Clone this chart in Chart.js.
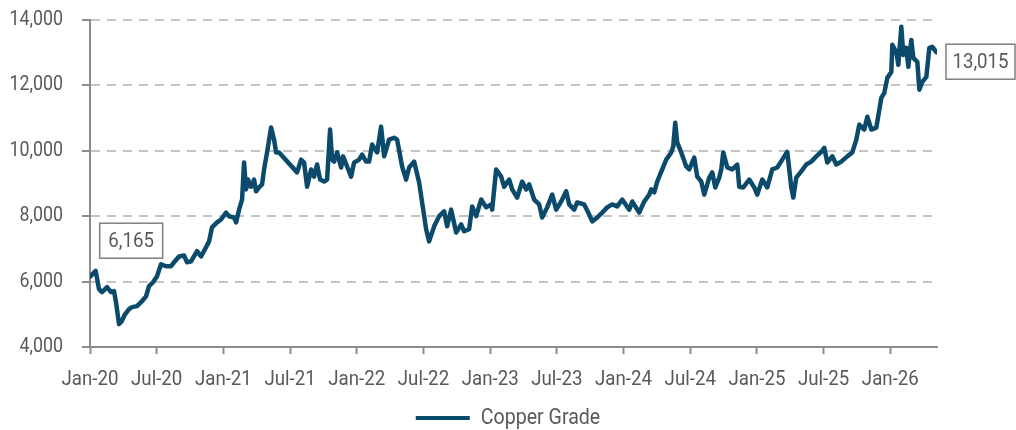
<!DOCTYPE html>
<html>
<head>
<meta charset="utf-8">
<script src="https://cdn.jsdelivr.net/npm/chart.js@4/dist/chart.umd.min.js"></script>
<style>
  html, body { margin: 0; padding: 0; background: #fff; }
  #wrap { width: 1016px; height: 430px; position: relative; }
</style>
</head>
<body>
<div id="wrap"><canvas id="c" width="1016" height="430"></canvas></div>
<script>
// Months elapsed since Jan-2020 for each observation
const months = [
  0.06, 0.51, 0.81, 1.08, 1.53, 1.89, 2.16, 2.34, 2.61, 2.85, 3.15, 3.51, 3.78, 4.23, 4.68, 5.04, 5.31, 5.67,
  6.03, 6.39, 6.84, 7.29, 7.56, 8.01, 8.46, 8.73, 9.09, 9.63, 9.99, 10.44, 10.71, 10.98, 11.43, 11.79,
  12.24, 12.51, 12.96, 13.14, 13.41, 13.68, 13.86, 14.04, 14.22, 14.49, 14.76, 14.94, 15.21, 15.48, 15.66, 15.93,
  16.29, 16.56, 16.74, 17.01, 18.63, 18.99, 19.26, 19.53, 19.89, 20.16, 20.43, 20.70, 21.06, 21.33, 21.60, 21.78,
  21.96, 22.23, 22.59, 22.77, 23.13, 23.49, 23.76, 24.21, 24.48, 24.84, 25.11, 25.38, 25.83, 26.19, 26.46, 26.91,
  27.36, 27.63, 28.08, 28.44, 28.71, 29.16, 29.61, 29.88, 30.24, 30.51, 30.96, 31.41, 31.86, 32.13, 32.49, 32.94,
  33.39, 33.66, 34.11, 34.38, 34.74, 35.19, 35.64, 36.09, 36.18, 36.54, 36.99, 37.26, 37.71, 37.98, 38.43, 38.88,
  39.24, 39.51, 39.96, 40.41, 40.68, 41.13, 41.58, 41.94, 42.39, 42.84, 43.11, 43.56, 43.83, 44.46, 44.91, 45.18,
  45.63, 46.08, 46.53, 46.98, 47.43, 47.88, 48.51, 48.78, 49.41, 49.86, 50.31, 50.49, 50.76, 51.03, 51.48, 51.84,
  52.29, 52.47, 52.65, 52.83, 53.19, 53.64, 53.91, 54.36, 54.63, 54.99, 55.26, 55.71, 55.98, 56.25, 56.61, 56.79,
  56.97, 57.33, 57.78, 58.23, 58.41, 58.77, 59.31, 59.76, 60.03, 60.48, 60.93, 61.38, 61.83, 62.28, 62.73, 63.09,
  63.27, 63.54, 63.99, 64.44, 64.89, 65.34, 65.79, 66.06, 66.33, 66.78, 67.14, 67.59, 68.13, 68.58, 68.94, 69.21,
  69.66, 69.93, 70.29, 70.74, 71.19, 71.46, 71.73, 72.09, 72.18, 72.54, 72.72, 72.99, 73.17, 73.44, 73.62, 73.89,
  74.07, 74.43, 74.61, 74.88, 75.24, 75.51, 75.78, 76.14
];
// Copper Grade price
const copperGrade = [
  6165, 6330, 5770, 5680, 5830, 5680, 5710, 5370, 4700, 4790, 5000, 5160, 5220, 5250, 5400, 5550, 5860, 5980,
  6165, 6530, 6470, 6470, 6590, 6770, 6800, 6590, 6620, 6930, 6770, 7050, 7230, 7660, 7810, 7900,
  8110, 8000, 7960, 7810, 8200, 8510, 9640, 8820, 9120, 8900, 9120, 8760, 8880, 8970, 9430, 9950,
  10710, 10340, 9950, 9950, 9340, 9730, 9640, 8900, 9430, 9210, 9580, 9120, 9060, 9120, 10650, 9730,
  9670, 9950, 9490, 9830, 9520, 9210, 9640, 9730, 9880, 9670, 9670, 10190, 9950, 10740, 9830, 10340,
  10400, 10340, 9520, 9120, 9490, 9670, 9030, 8420, 7600, 7230, 7690, 8000, 8150, 7690, 8200, 7500,
  7750, 7540, 7600, 8300, 8000, 8510, 8270, 8360, 8200, 9430, 9210, 8900, 9120, 8820, 8570, 9060,
  8820, 8970, 8510, 8360, 7960, 8270, 8660, 8200, 8450, 8760, 8360, 8200, 8420, 8360, 8050, 7840,
  7960, 8110, 8270, 8360, 8300, 8510, 8200, 8450, 8110, 8450, 8660, 8820, 8730, 9060, 9430, 9730,
  9950, 10130, 10860, 10250, 9950, 9520, 9430, 9790, 9210, 9060, 8660, 9180, 9340, 8880, 9180, 9430,
  9950, 9490, 9430, 9580, 8900, 8880, 9120, 8880, 8660, 9120, 8880, 9430, 9490, 9730, 9970, 8880,
  8570, 9180, 9370, 9580, 9670, 9830, 9970, 10090, 9640, 9830, 9580, 9670, 9830, 9950, 10340, 10800,
  10650, 11040, 10650, 10710, 11620, 11770, 12230, 12410, 13240, 13020, 12630, 13790, 12930, 13150, 12570, 13390,
  12840, 12720, 11870, 12110, 12260, 13150, 13180, 13015
];
// Tick labels every 6 months from Jan-20
const tickLabels = ['Jan-20','Jul-20','Jan-21','Jul-21','Jan-22','Jul-22','Jan-23','Jul-23','Jan-24','Jul-24','Jan-25','Jul-25','Jan-26'];
const seriesName = 'Copper Grade';

const FONT = "Roboto, 'Liberation Sans', sans-serif";
const TXT = '#595959';
const LINE = '#0b4a6b';
const NARROW = 0.89; // horizontal text compression to mimic a condensed face

const canvas = document.getElementById('c');
const ctx2d = canvas.getContext('2d');
(function condenseText(ctx, k) {
  const fill = ctx.fillText.bind(ctx);
  const measure = ctx.measureText.bind(ctx);
  ctx.fillText = function (t, x, y, maxW) {
    ctx.save();
    ctx.translate(x, y);
    ctx.scale(k, 1);
    if (maxW !== undefined) fill(t, 0, 0, maxW / k); else fill(t, 0, 0);
    ctx.restore();
  };
  ctx.measureText = function (t) {
    const m = measure(t);
    return {
      width: m.width * k,
      actualBoundingBoxAscent: m.actualBoundingBoxAscent,
      actualBoundingBoxDescent: m.actualBoundingBoxDescent,
      actualBoundingBoxLeft: m.actualBoundingBoxLeft * k,
      actualBoundingBoxRight: m.actualBoundingBoxRight * k
    };
  };
})(ctx2d, NARROW);

const points = months.map((m, i) => ({ x: m, y: copperGrade[i] }));

const boxLabels = {
  id: 'boxLabels',
  afterLayout(chart) {
    if (chart.legend) { chart.legend.top += 9; chart.legend.bottom += 9; }
  },
  afterDatasetsDraw(chart) {
    const ctx = chart.ctx;
    const xs = chart.scales.x, ys = chart.scales.y;
    const fmt = v => v.toLocaleString('en-US');
    const first = points[0], last = points[points.length - 1];
    ctx.save();
    ctx.font = '21px ' + FONT;
    ctx.textBaseline = 'middle';
    ctx.textAlign = 'center';
    function box(x, y, w, h, text) {
      ctx.fillStyle = '#fff';
      ctx.fillRect(x, y, w, h);
      ctx.strokeStyle = '#7f7f7f';
      ctx.lineWidth = 1.5;
      ctx.strokeRect(x, y, w, h);
      ctx.fillStyle = TXT;
      ctx.fillText(text, x + w / 2, y + h / 2 + 1);
    }
    const fx = xs.getPixelForValue(first.x), fy = ys.getPixelForValue(first.y);
    box(fx + 9, fy - 53, 63, 35, fmt(first.y));
    const ly = ys.getPixelForValue(last.y);
    box(chart.chartArea.right + 9, ly - 8, 69, 35, fmt(last.y));
    ctx.restore();
  }
};

new Chart(canvas, {
  type: 'line',
  data: {
    datasets: [{
      label: seriesName,
      data: points,
      borderColor: LINE,
      backgroundColor: LINE,
      borderWidth: 4.5,
      pointRadius: 0,
      tension: 0,
      borderJoinStyle: 'round',
      borderCapStyle: 'round'
    }]
  },
  options: {
    responsive: false,
    animation: false,
    devicePixelRatio: 1,
    layout: { padding: { left: 0, right: 0, top: 20, bottom: 0 } },
    plugins: {
      legend: {
        position: 'bottom',
        labels: {
          color: TXT,
          font: { family: FONT, size: 22, lineHeight: 0.64 },
          boxWidth: 54,
          boxHeight: 4,
          padding: 0,
          generateLabels(chart) {
            return [{ text: seriesName, fillStyle: LINE, strokeStyle: LINE, lineWidth: 0, datasetIndex: 0, fontColor: TXT }];
          }
        }
      },
      tooltip: { enabled: false }
    },
    scales: {
      x: {
        type: 'linear',
        min: 0,
        max: 76.2,
        afterBuildTicks(scale) {
          scale.ticks = tickLabels.map((_, i) => ({ value: i * 6 }));
        },
        afterFit(scale) {
          const legendH = scale.chart.legend ? scale.chart.legend.height : 20;
          scale.height = 430 - 347 - legendH;
          scale.paddingLeft = 0; scale.paddingRight = 0;
        },
        ticks: {
          color: TXT,
          font: { family: FONT, size: 21 },
          maxRotation: 0,
          autoSkip: false,
          padding: 13,
          callback: (v) => tickLabels[Math.round(v / 6)]
        },
        grid: {
          drawOnChartArea: false,
          drawTicks: true,
          tickLength: 7,
          tickColor: '#8c8c8c',
          tickWidth: 2
        },
        border: { color: '#8c8c8c', width: 2 }
      },
      y: {
        min: 4000,
        max: 14000,
        afterFit(scale) { scale.width = 90; scale.paddingTop = 0; scale.paddingBottom = 0; },
        ticks: {
          stepSize: 2000,
          color: TXT,
          font: { family: FONT, size: 20 },
          padding: 19,
          callback: (v) => v.toLocaleString('en-US')
        },
        grid: {
          color: '#c4c4c4',
          lineWidth: 2,
          tickLength: 8,
          tickColor: '#8c8c8c',
          tickWidth: 2,
          tickBorderDash: []
        },
        border: { color: '#8c8c8c', width: 2, dash: [9, 7] }
      },
      rightSpace: {
        position: 'right',
        display: true,
        afterFit(scale) { scale.width = 79; scale.paddingTop = 0; scale.paddingBottom = 0; },
        ticks: { display: false },
        grid: { display: false, drawTicks: false },
        border: { display: false }
      }
    }
  },
  plugins: [boxLabels]
});
</script>
</body>
</html>
